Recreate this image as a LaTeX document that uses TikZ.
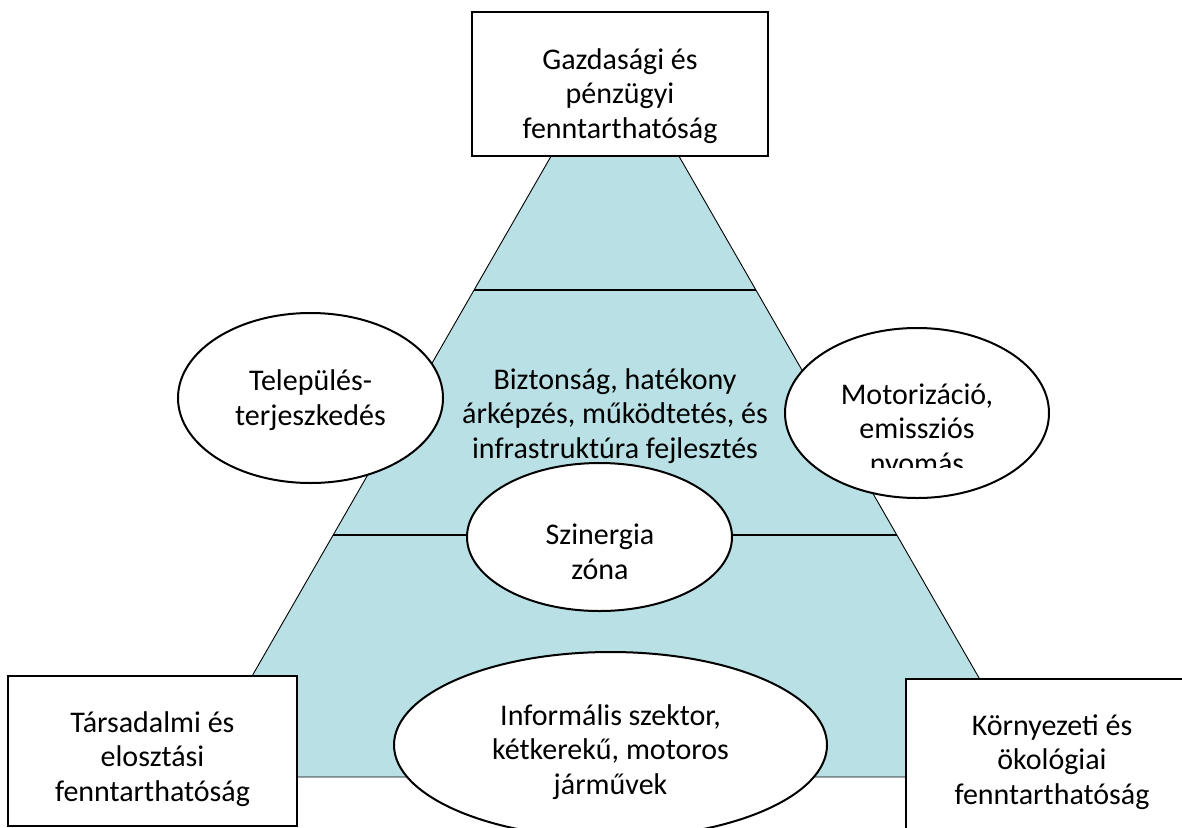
\documentclass[tikz,border=0pt]{standalone}
\usepackage{fontspec}
\setmainfont{Carlito}
\usetikzlibrary{shapes.geometric,calc}
\definecolor{zonefill}{RGB}{185,224,228}
\tikzset{
  txt/.style={inner sep=0pt, align=center, font=\fontsize{30}{34.5}\selectfont},
  pillar/.style={draw=black, line width=2pt, fill=white, rectangle, inner sep=0pt},
  bubble/.style={draw=black, line width=2pt, fill=white, ellipse, inner sep=0pt},
  divider/.style={draw=black, line width=2.2pt},
  zone/.style={fill=zonefill, draw=black, line width=0.9pt}
}
\begin{document}
\begin{tikzpicture}[x=1pt,y=-1pt]
\useasboundingbox (0,0) rectangle (1182,827);
\clip (0,0) rectangle (1182,827);

% sustainability triangle
\coordinate (apex) at (615,45);
\coordinate (bl) at (194,777);
\coordinate (br) at (1036,777);
\path[zone] (apex) -- (br) -- (bl) -- cycle;

% band dividers
\coordinate (d1l) at ($(apex)!0.3347!(bl)$);
\coordinate (d1r) at ($(apex)!0.3347!(br)$);
\coordinate (d2l) at ($(apex)!0.6694!(bl)$);
\coordinate (d2r) at ($(apex)!0.6694!(br)$);
\draw[divider] (d1l) -- (d1r);
\draw[divider] (d2l) -- (d2r);

% middle band text
\node[txt] (midtxt) at (615,416) {Biztonság, hatékony\\árképzés, működtetés, és\\infrastruktúra fejlesztés};

% bubbles
\node[bubble, minimum width=265pt, minimum height=170pt] (settle) at (310.5,398) {};
\node[txt] (settletxt) at (310.5,400) {Település-\\terjeszkedés};

\node[bubble, minimum width=264pt, minimum height=170pt] (motor) at (917,413) {};
\begin{scope}
  \clip (785,300) rectangle (1049,467);
  \node[txt] (motortxt) at (917,431) {Motorizáció,\\emissziós\\nyomás};
\end{scope}

\node[bubble, minimum width=265pt, minimum height=148pt] (syn) at (599.5,537) {};
\node[txt] (syntxt) at (600,552) {Szinergia\\zóna};

\node[bubble, minimum width=433pt, minimum height=186pt] (informal) at (610.5,745) {};
\node[txt] (informaltxt) at (610.5,752) {Informális szektor,\\kétkerekű, motoros\\járművek};

% pillar boxes
\node[pillar, minimum width=296pt, minimum height=144pt] (econ) at (620,84) {};
\node[txt] (econtxt) at (620,96) {Gazdasági és\\pénzügyi\\fenntarthatóság};

\node[pillar, minimum width=289pt, minimum height=150pt] (social) at (152.5,751) {};
\node[txt] (socialtxt) at (152.5,759) {Társadalmi és\\elosztási\\fenntarthatóság};

\node[pillar, minimum width=292pt, minimum height=150pt] (env) at (1052,754) {};
\node[txt] (envtxt) at (1052,762) {Környezeti és\\ökológiai\\fenntarthatóság};
\end{tikzpicture}
\end{document}
